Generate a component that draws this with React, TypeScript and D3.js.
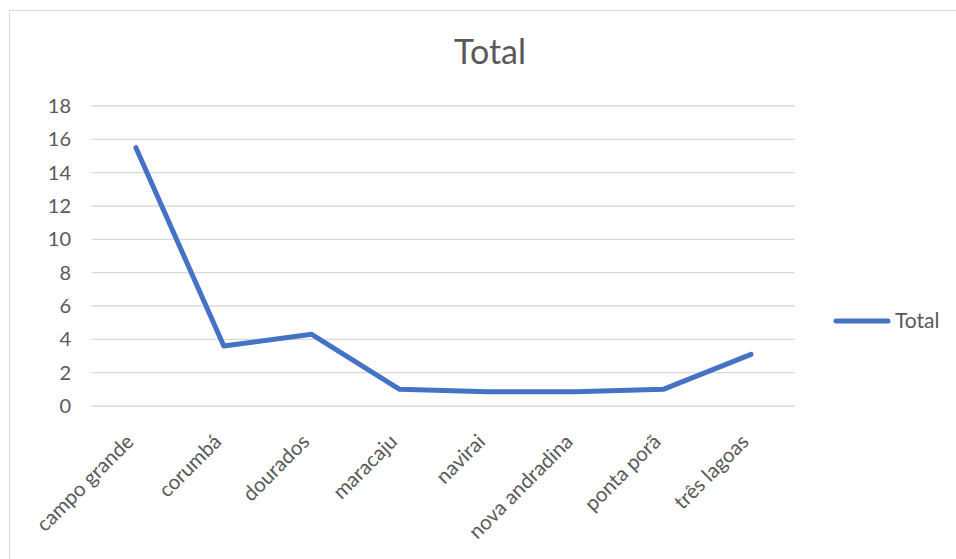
import { useMemo } from 'react';
import * as d3 from 'd3';

const categories = [
  'campo grande',
  'corumbá',
  'dourados',
  'maracaju',
  'navirai',
  'nova andradina',
  'ponta porã',
  'três lagoas',
];
const totals = [15.5, 3.6, 4.3, 1.0, 0.85, 0.85, 1.0, 3.1];
const yTicks = [0, 2, 4, 6, 8, 10, 12, 14, 16, 18];

const W = 956;
const H = 559;
const font = 'Lato, "Open Sans", sans-serif';
const blue = '#4472C4';
const grey = '#595959';

export default function App() {
  const plot = { left: 92, right: 795, top: 106, bottom: 406 };

  const x = useMemo(
    () => d3.scalePoint<string>().domain(categories).range([plot.left, plot.right]).padding(0.5),
    [],
  );
  const y = useMemo(() => d3.scaleLinear().domain([0, 18]).range([plot.bottom, plot.top]), []);

  const line = d3
    .line<number>()
    .x((_, i) => x(categories[i]) ?? 0)
    .y((d) => y(d));

  return (
    <svg
      width={W}
      height={H}
      style={{ position: 'absolute', left: 0, top: 0, display: 'block', background: '#fff' }}
      fontFamily={font}
    >
      <rect x={9.5} y={10.5} width={W + 10} height={H + 10} fill="#fff" stroke="#d9d9d9" />

      <text x={490} y={64} textAnchor="middle" fontSize={34} fill={grey}>
        Total
      </text>

      {yTicks.map((t) => (
        <g key={t}>
          <line x1={plot.left} x2={plot.right} y1={y(t)} y2={y(t)} stroke="#d9d9d9" strokeWidth={1.3} />
          <text x={71} y={y(t)} dy="0.35em" textAnchor="end" fontSize={20} fill={grey}>
            {t}
          </text>
        </g>
      ))}

      {categories.map((c) => (
        <text
          key={c}
          transform={`translate(${(x(c) ?? 0) - 1},${plot.bottom + 37}) rotate(-45)`}
          textAnchor="end"
          fontSize={20.5}
          fill={grey}
        >
          {c}
        </text>
      ))}

      <path
        d={line(totals) ?? ''}
        fill="none"
        stroke={blue}
        strokeWidth={5}
        strokeLinejoin="round"
        strokeLinecap="round"
      />

      <line x1={836} x2={888} y1={321} y2={321} stroke={blue} strokeWidth={5} strokeLinecap="round" />
      <text x={895} y={321} dy="0.35em" fontSize={21} fill={grey}>
        Total
      </text>
    </svg>
  );
}
